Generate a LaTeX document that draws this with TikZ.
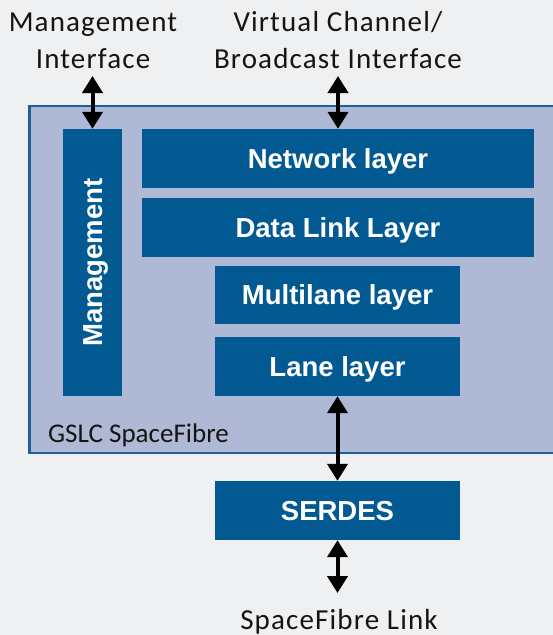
\documentclass[tikz,border=0pt]{standalone}
\usepackage{fontspec}
\setmainfont{Carlito}
\newfontfamily\boxfont{Liberation Sans}
\newfontfamily\lblfont[LetterSpace=4]{Carlito}
\usetikzlibrary{arrows.meta}
\definecolor{bgcol}{HTML}{EFF0F2}
\definecolor{outerfill}{HTML}{AFB8D5}
\definecolor{outerline}{HTML}{1F5E99}
\definecolor{boxblue}{HTML}{035A92}
\tikzset{
  layerbox/.style={fill=boxblue, draw=none, inner sep=0pt, text=white,
    font=\boxfont\bfseries\fontsize{27.5}{30}\selectfont,
    text height=19.7pt, text depth=0pt, align=center},
  boxtext/.style={inner sep=0pt, text=white,
    font=\boxfont\bfseries\fontsize{27.5}{30}\selectfont,
    text height=19.7pt, text depth=0pt},
  lbl/.style={inner sep=0pt, anchor=base, text=black!92,
    font=\lblfont\fontsize{29}{31}\selectfont},
  biarrow/.style={line width=4pt, black,
    {Triangle[width=20pt,length=17pt]}-{Triangle[width=20pt,length=17pt]}, shorten <=0pt, shorten >=0pt}
}
\begin{document}
\begin{tikzpicture}[x=1pt,y=-1pt]
\clip (0,0) rectangle (553,635);
\fill[bgcol] (0,0) rectangle (553,635);
% outer box
\node[draw=outerline, line width=2.5pt, fill=outerfill, inner sep=0pt,
  minimum width=600pt, minimum height=347pt, anchor=north west] (gslc) at (28,104.5) {};
\node[lbl, anchor=base west, font=\fontsize{27}{30}\selectfont] (gslclbl) at (48,442) {GSLC SpaceFibre};
% management
\node[layerbox, minimum width=59pt, minimum height=267pt] (mgmt) at (92.5,262.5) {};
\node[boxtext, rotate=90] (mgmttxt) at (mgmt.center) {Management};
% layers
\node[layerbox, minimum width=392pt, minimum height=59pt] (net) at (338,158.5) {Network layer};
\node[layerbox, minimum width=392pt, minimum height=59pt] (dll) at (338,227.5) {Data Link Layer};
\node[layerbox, minimum width=245pt, minimum height=58pt] (ml) at (337.5,295) {Multilane layer};
\node[layerbox, minimum width=245pt, minimum height=59pt] (lane) at (337.5,366.5) {Lane layer};
\node[layerbox, minimum width=245pt, minimum height=59pt] (serdes) at (337.5,510.5) {SERDES};
% labels
\node[lbl] (mgl1) at (93,31.7) {Management};
\node[lbl] (mgl2) at (93,68) {Interface};
\node[lbl] (vcl1) at (338,31.7) {Virtual Channel/};
\node[lbl] (vcl2) at (338,68) {Broadcast Interface};
\node[lbl] (link) at (339,629) {SpaceFibre Link};
% arrows
\coordinate (mgtop) at (92.5,76);
\coordinate (vctop) at (338,76);
\coordinate (linkend) at (337.5,593);
\draw[biarrow] (mgtop) -- (mgmt.north);
\draw[biarrow] (vctop) -- (net.north);
\draw[biarrow] (lane.south) -- (serdes.north);
\draw[biarrow] (serdes.south) -- (linkend);
\end{tikzpicture}
\end{document}
